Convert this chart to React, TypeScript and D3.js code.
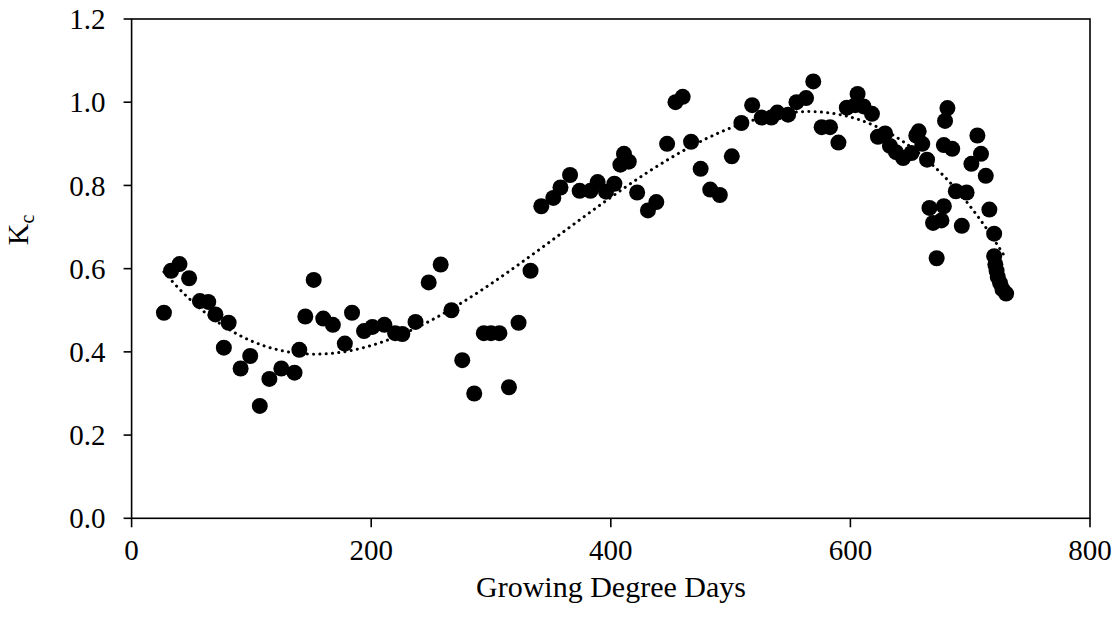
import React from "react";
import * as d3 from "d3";

const gdd = [27, 33, 40, 48, 57, 64, 70, 77, 81, 91, 99, 107, 115, 125, 136, 140, 145, 152, 160, 168, 178, 184, 194, 201, 211, 220, 226, 237, 248, 258, 267, 276, 286, 294, 300, 307, 315, 323, 333, 342, 352, 358, 366, 374, 383, 389, 396, 403, 408, 411, 415, 422, 431, 438, 447, 454, 460, 467, 475, 483, 491, 501, 509, 518, 526, 534, 539, 548, 555, 563, 569, 576, 583, 590, 597, 604, 606, 611, 618, 623, 629, 633, 638, 644, 651, 655, 657, 660, 664, 666, 669, 672, 676, 678, 678, 679, 681, 685, 688, 693, 697, 701, 706, 709, 713, 716, 720, 720, 721, 722, 723, 725, 727, 730];
const kc = [0.494, 0.595, 0.611, 0.577, 0.522, 0.52, 0.49, 0.41, 0.47, 0.36, 0.39, 0.27, 0.335, 0.36, 0.35, 0.405, 0.485, 0.573, 0.48, 0.465, 0.42, 0.494, 0.45, 0.46, 0.465, 0.445, 0.443, 0.472, 0.567, 0.61, 0.5, 0.38, 0.3, 0.445, 0.445, 0.445, 0.315, 0.47, 0.595, 0.75, 0.77, 0.795, 0.825, 0.787, 0.787, 0.808, 0.785, 0.804, 0.85, 0.876, 0.857, 0.783, 0.74, 0.76, 0.9, 1.0, 1.013, 0.905, 0.84, 0.79, 0.777, 0.87, 0.95, 0.993, 0.963, 0.963, 0.975, 0.97, 1.0, 1.01, 1.05, 0.94, 0.94, 0.903, 0.987, 0.993, 1.02, 0.99, 0.972, 0.917, 0.925, 0.895, 0.88, 0.866, 0.878, 0.92, 0.93, 0.9, 0.862, 0.746, 0.71, 0.625, 0.716, 0.75, 0.897, 0.955, 0.986, 0.888, 0.786, 0.703, 0.783, 0.852, 0.92, 0.876, 0.823, 0.742, 0.684, 0.63, 0.61, 0.595, 0.58, 0.565, 0.55, 0.54];

const xTicks = [0, 200, 400, 600, 800];
const yTicks = [0, 0.2, 0.4, 0.6, 0.8, 1.0, 1.2];
const xTitle = "Growing Degree Days";
const trendDegree = 3;

function polyFit(xs: number[], ys: number[], deg: number) {
  const n = deg + 1;
  const A: number[][] = Array.from({ length: n }, () => new Array(n + 1).fill(0));
  xs.forEach((xv, i) => {
    const x = xv / 800;
    const pw: number[] = [];
    for (let k = 0; k < 2 * n; k++) pw.push(Math.pow(x, k));
    for (let r = 0; r < n; r++) {
      for (let c = 0; c < n; c++) A[r][c] += pw[r + c];
      A[r][n] += pw[r] * ys[i];
    }
  });
  for (let i = 0; i < n; i++) {
    let p = i;
    for (let r = i + 1; r < n; r++) if (Math.abs(A[r][i]) > Math.abs(A[p][i])) p = r;
    [A[i], A[p]] = [A[p], A[i]];
    for (let r = 0; r < n; r++) {
      if (r === i) continue;
      const f = A[r][i] / A[i][i];
      for (let c = i; c <= n; c++) A[r][c] -= f * A[i][c];
    }
  }
  const coef = A.map((row, i) => row[n] / row[i]);
  return (xv: number) => {
    const x = xv / 800;
    return coef.reduce((s, c, k) => s + c * Math.pow(x, k), 0);
  };
}

export default function App() {
  const W = 1120, H = 621;
  const x = d3.scaleLinear().domain([0, 800]).range([131.6, 1090]);
  const y = d3.scaleLinear().domain([0, 1.2]).range([518.3, 19]);
  const f = polyFit(gdd, kc, trendDegree);
  const xmin = d3.min(gdd)!, xmax = d3.max(gdd)!;
  const trendPts = d3.range(0, 201).map((i) => {
    const xv = xmin + ((xmax - xmin) * i) / 200;
    return [xv, f(xv)] as [number, number];
  });
  const line = d3.line<[number, number]>().x((d) => x(d[0])).y((d) => y(d[1]));
  const font = "'Liberation Serif', 'Times New Roman', serif";
  const fmt = d3.format(".1f");
  return (
    <svg width={W} height={H} style={{ position: "absolute", left: 0, top: 0, background: "#fff" }} fontFamily={font}>
      <rect x={x(0)} y={y(1.2)} width={x(800) - x(0)} height={y(0) - y(1.2)} fill="none" stroke="#000" strokeWidth={1.6} />
      {yTicks.map((t) => (
        <g key={"y" + t}>
          <line x1={x(0) - 8} x2={x(0)} y1={y(t)} y2={y(t)} stroke="#000" strokeWidth={1.6} />
          <text x={x(0) - 26} y={y(t)} dy="0.35em" textAnchor="end" fontSize={29}>{fmt(t)}</text>
        </g>
      ))}
      {xTicks.map((t) => (
        <g key={"x" + t}>
          <line x1={x(t)} x2={x(t)} y1={y(0)} y2={y(0) + 9} stroke="#000" strokeWidth={1.6} />
          <text x={x(t)} y={y(0) + 42} textAnchor="middle" fontSize={29}>{t}</text>
        </g>
      ))}
      {gdd.map((g, i) => (
        <circle key={i} cx={x(g)} cy={y(kc[i])} r={8} fill="#000" />
      ))}
      <path d={line(trendPts)!} fill="none" stroke="#000" strokeWidth={3} strokeLinecap="round" strokeDasharray="0.1 6.2" />
      <text x={611} y={597} textAnchor="middle" fontSize={30}>{xTitle}</text>
      <text transform={`translate(28, 230) rotate(-90)`} textAnchor="middle" fontSize={30}>
        K<tspan fontSize={20} dy={6}>c</tspan>
      </text>
    </svg>
  );
}
